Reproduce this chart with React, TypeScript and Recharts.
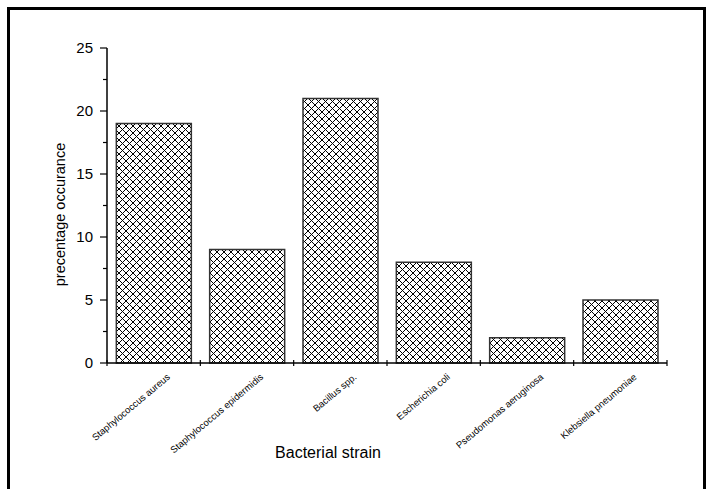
import React from 'react';
import { BarChart, Bar, XAxis, YAxis } from 'recharts';

const categories = [
  'Staphylococcus aureus',
  'Staphylococcus epidermidis',
  'Bacillus spp.',
  'Escherichia coli',
  'Pseudomonas aeruginosa',
  'Klebsiella pneumoniae',
];
const occurrence = [19, 9, 21, 8, 2, 5];
const yTicks = [0, 2.5, 5, 7.5, 10, 12.5, 15, 17.5, 20, 22.5, 25];

const data = categories.map((name, i) => ({ name, value: occurrence[i] }));

const FONT = '"Liberation Sans", Arial, Helvetica, sans-serif';

const YTick = (props: any) => {
  const { x, y, payload } = props;
  const major = payload.value % 5 === 0;
  return (
    <g>
      <line x1={x - (major ? 7 : 4)} x2={x} y1={y} y2={y} stroke="#000" strokeWidth={1.2} />
      {major && (
        <text x={x - 14} y={y} dy="0.36em" textAnchor="end" fontFamily={FONT} fontSize={15} fill="#000">
          {payload.value}
        </text>
      )}
    </g>
  );
};

const XTick = (props: any) => {
  const { x, y, payload, index, width } = props;
  const n = categories.length;
  const half = (width || 560) / n / 2;
  const isLast = index === n - 1;
  return (
    <g>
      <line x1={x - half} x2={x - half} y1={y - 3} y2={y + 3} stroke="#000" strokeWidth={1.2} />
      {isLast && <line x1={x + half} x2={x + half} y1={y - 3} y2={y + 3} stroke="#000" strokeWidth={1.2} />}
      <g transform={`translate(${x + 17},${y + 15})`}>
        <text x={0} y={0} textAnchor="end" transform="rotate(-40)" fontFamily={FONT} fontSize={9.5} fill="#000">
          {payload.value}
        </text>
      </g>
    </g>
  );
};

export default function App() {
  return (
    <div style={{ position: 'absolute', left: 0, top: 0, width: 720, height: 489, background: '#fff' }}>
      <div
        style={{
          position: 'absolute',
          left: 7,
          top: 7,
          width: 699,
          height: 482,
          boxSizing: 'border-box',
          borderTop: '3px solid #000',
          borderLeft: '3px solid #000',
          borderRight: '3px solid #000',
        }}
      />
      <div style={{ position: 'absolute', left: 0, top: 0 }}>
        <BarChart
          width={720}
          height={489}
          data={data}
          margin={{ top: 48, right: 53, bottom: 31, left: 47 }}
          barCategoryGap="10%"
        >
          <defs>
            <pattern id="hatch" patternUnits="userSpaceOnUse" width={7} height={7}>
              <rect x={0} y={0} width={7} height={7} fill="#fff" />
              <path d="M0,0 L7,7 M7,0 L0,7 M-1,6 L1,8 M6,-1 L8,1 M-1,1 L1,-1 M6,8 L8,6" stroke="#000" strokeWidth={1} />
            </pattern>
          </defs>
          <XAxis
            xAxisId="cat"
            dataKey="name"
            interval={0}
            height={95}
            tickSize={0}
            tickMargin={0}
            tickLine={false}
            axisLine={{ stroke: '#000', strokeWidth: 1.5 }}
            tick={<XTick />}
            label={{
              content: (p: any) => {
                const vb = p.viewBox;
                return (
                  <text x={328} y={vb.y + 95} textAnchor="middle" fontFamily={FONT} fontSize={16} fill="#000">
                    Bacterial strain
                  </text>
                );
              },
            }}
          />
          <XAxis
            xAxisId="top"
            dataKey="name"
            orientation="top"
            height={0}
            tick={false}
            tickLine={false}
            axisLine={{ stroke: '#666', strokeWidth: 1 }}
          />
          <YAxis
            yAxisId="left"
            width={60}
            domain={[0, 25]}
            ticks={yTicks}
            interval={0}
            tickSize={0}
            tickMargin={0}
            tickLine={false}
            axisLine={{ stroke: '#000', strokeWidth: 1.5 }}
            tick={<YTick />}
            label={{
              content: (p: any) => {
                const vb = p.viewBox;
                const cx = vb.x + 18;
                const cy = 214.5;
                return (
                  <text
                    x={cx}
                    y={cy}
                    textAnchor="middle"
                    transform={`rotate(-90 ${cx} ${cy})`}
                    fontFamily={FONT}
                    fontSize={14.5}
                    fill="#000"
                  >
                    precentage occurance
                  </text>
                );
              },
            }}
          />
          <YAxis
            yAxisId="right"
            orientation="right"
            width={0}
            domain={[0, 25]}
            tick={false}
            tickLine={false}
            axisLine={{ stroke: '#666', strokeWidth: 1 }}
          />
          <Bar
            xAxisId="cat"
            yAxisId="left"
            dataKey="value"
            fill="url(#hatch)"
            stroke="#333"
            strokeWidth={1.5}
            isAnimationActive={false}
          />
        </BarChart>
      </div>
    </div>
  );
}
